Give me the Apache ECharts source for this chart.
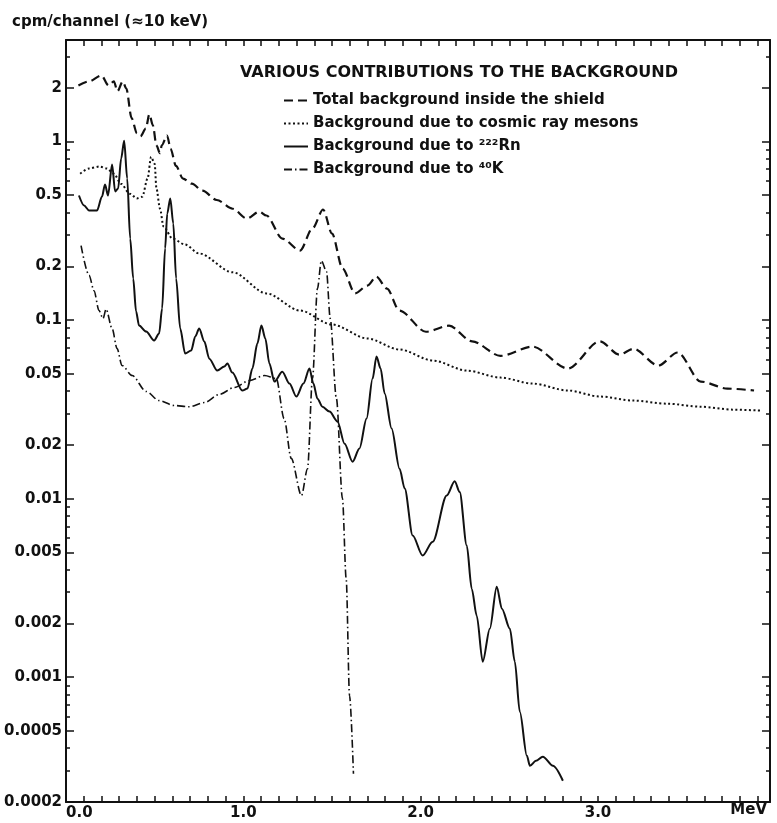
<!DOCTYPE html>
<html>
<head>
<meta charset="utf-8">
<script src="https://cdn.jsdelivr.net/npm/echarts@6/dist/echarts.min.js"></script>
<style>
  html, body { margin: 0; padding: 0; background: #fff; }
  #chart { width: 777px; height: 823px; }
</style>
</head>
<body>
<div id="chart"></div>
<script>

  /******************/
  //region    //data  (energy in MeV, counts in cpm per 10 keV channel)

  let totalE = [0.07, 0.13, 0.20, 0.24, 0.27, 0.29, 0.32, 0.34, 0.37, 0.40, 0.42, 0.45, 0.47, 0.49, 0.51, 0.53,
    0.54, 0.57, 0.59, 0.62, 0.66, 0.71, 0.77, 0.85, 0.94, 1.02, 1.09, 1.13, 1.22, 1.32, 1.39, 1.45, 1.50, 1.56,
    1.63, 1.70, 1.75, 1.81, 1.88, 2.03, 2.16, 2.29, 2.45, 2.63, 2.83, 3.01, 3.12, 3.20, 3.34, 3.45, 3.58, 3.73, 3.88];
  let totalV = [2.06, 2.17, 2.34, 2.06, 2.17, 1.91, 2.17, 1.98, 1.35, 1.11, 1.07, 1.18, 1.42, 1.23, 0.95, 0.86,
    0.95, 1.08, 0.91, 0.73, 0.62, 0.58, 0.53, 0.47, 0.42, 0.37, 0.405, 0.385, 0.286, 0.245, 0.326, 0.416, 0.305, 0.194,
    0.141, 0.156, 0.175, 0.150, 0.113, 0.086, 0.093, 0.076, 0.063, 0.071, 0.0535, 0.076, 0.064, 0.069, 0.0556, 0.0658,
    0.0452, 0.0413, 0.0403];

  let cosmicE = [0.08, 0.13, 0.19, 0.23, 0.27, 0.31, 0.36, 0.40, 0.43, 0.46, 0.48, 0.50, 0.51, 0.53, 0.55, 0.60,
    0.67, 0.75, 0.94, 1.13, 1.32, 1.50, 1.70, 1.88, 2.07, 2.26, 2.45, 2.63, 2.83, 3.01, 3.20, 3.39, 3.58, 3.76, 3.92];
  let cosmicV = [0.66, 0.706, 0.724, 0.706, 0.66, 0.58, 0.51, 0.48, 0.49, 0.62, 0.82, 0.75, 0.545, 0.42, 0.334, 0.286,
    0.265, 0.236, 0.185, 0.141, 0.113, 0.0944, 0.0788, 0.0684, 0.0593, 0.0521, 0.0476, 0.0441, 0.0403, 0.0373, 0.0354,
    0.034, 0.0327, 0.0315, 0.0311];

  let radonE = [0.073, 0.102, 0.13, 0.175, 0.203, 0.22, 0.237, 0.26, 0.277, 0.294, 0.311, 0.328, 0.345, 0.362, 0.379,
    0.395, 0.412, 0.452, 0.497, 0.525, 0.542, 0.559, 0.571, 0.588, 0.605, 0.621, 0.644, 0.672, 0.706, 0.729, 0.751,
    0.78, 0.808, 0.853, 0.893, 0.91, 0.938, 0.994, 1.023, 1.051, 1.079, 1.102, 1.124, 1.147, 1.175, 1.22, 1.26, 1.299,
    1.339, 1.373, 1.395, 1.418, 1.446, 1.486, 1.531, 1.571, 1.616, 1.655, 1.695, 1.729, 1.751, 1.774, 1.797, 1.836,
    1.881, 1.91, 1.955, 2.011, 2.068, 2.147, 2.192, 2.22, 2.26, 2.288, 2.316, 2.35, 2.39, 2.429, 2.458, 2.503, 2.531,
    2.559, 2.599, 2.616, 2.65, 2.689, 2.746, 2.802];
  let radonV = [0.498, 0.438, 0.411, 0.411, 0.492, 0.574, 0.498, 0.743, 0.525, 0.545, 0.803, 1.01, 0.621, 0.286, 0.171,
    0.112, 0.0931, 0.0862, 0.0768, 0.084, 0.116, 0.252, 0.395, 0.48, 0.347, 0.171, 0.0896, 0.0649, 0.0675, 0.0809, 0.0896,
    0.0758, 0.0608, 0.0521, 0.0549, 0.0571, 0.0508, 0.0403, 0.0413, 0.0535, 0.0738, 0.0931, 0.0788, 0.0571, 0.0452, 0.0514,
    0.0441, 0.0373, 0.0441, 0.0535, 0.0441, 0.0363, 0.0327, 0.0307, 0.027, 0.0203, 0.0161, 0.0191, 0.0281, 0.047, 0.0625,
    0.0535, 0.0388, 0.0247, 0.0147, 0.0114, 0.00621, 0.0048, 0.00574, 0.0104, 0.0125, 0.0109, 0.00546, 0.00313, 0.00221,
    0.00122, 0.00187, 0.00321, 0.00242, 0.00187, 0.00122, 0.00064, 0.000363, 0.000319, 0.00034, 0.000359, 0.000319,
    0.000263];

  let potassiumE = [0.085, 0.13, 0.158, 0.186, 0.209, 0.226, 0.26, 0.288, 0.316, 0.373, 0.452, 0.525, 0.61, 0.695,
    0.78, 0.864, 0.949, 1.034, 1.12, 1.186, 1.23, 1.27, 1.328, 1.362, 1.39, 1.418, 1.44, 1.469, 1.49, 1.525, 1.559,
    1.58, 1.599, 1.621];
  let potassiumV = [0.261, 0.178, 0.146, 0.113, 0.102, 0.115, 0.0896, 0.0692, 0.0556, 0.0489, 0.0398, 0.0354, 0.0332,
    0.0327, 0.0345, 0.0383, 0.0419, 0.0458, 0.0489, 0.047, 0.0281, 0.0168, 0.0104, 0.0147, 0.047, 0.150, 0.215, 0.187,
    0.102, 0.0363, 0.0100, 0.00356, 0.000787, 0.000288];

  let seriesNames = ['Total background inside the shield', 'Background due to cosmic ray mesons',
    'Background due to ²²²Rn', 'Background due to ⁴⁰K'];

  let yLabels = ['0.0002', '0.0005', '0.001', '0.002', '0.005', '0.01', '0.02', '0.05', '0.1', '0.2', '0.5', '1', '2'];
  let xLabels = [0, 1, 2, 3];

  //endregion

  /******************/
  //region    //helpers

  let font = '"DejaVu Sans", sans-serif';
  let ink = '#111';
  let yMin = Math.log10(0.0002);
  let yMax = Math.log10(3.7);

  // values are plotted as log10 on a linear axis
  function pairs(xs, vs) {
    return xs.map((x, i) => [x, Math.log10(vs[i])]);
  }

  let yMajor = yLabels.map(s => Math.log10(Number(s)));
  let yMinor = [];
  for (let p = -4; p <= 0; p++) {
    for (let m = 1; m <= 9; m++) {
      let v = m * Math.pow(10, p);
      let lv = Math.log10(v);
      if (lv >= yMin - 1e-9 && lv <= yMax && yLabels.indexOf(String(Number(v.toPrecision(6)))) < 0) {
        yMinor.push(lv);
      }
    }
  }

  function yLabelText(v) {
    for (let s of yLabels) {
      if (Math.abs(Math.log10(Number(s)) - v) < 1e-6) return s;
    }
    return '';
  }

  function yAxis(position, ticks, len, withLabels, withLine) {
    return {
      type: 'value', position: position, min: yMin, max: yMax,
      axisLine: {show: withLine, onZero: false, lineStyle: {color: ink, width: 2}},
      axisTick: {show: true, inside: true, length: len, customValues: ticks, lineStyle: {color: ink, width: 1.5}},
      axisLabel: withLabels ? {
        show: true, customValues: yMajor, formatter: yLabelText, margin: 4,
        color: ink, fontSize: 15, fontWeight: 'bold', fontFamily: font
      } : {show: false},
      splitLine: {show: false},
    };
  }

  function xAxis(position, withLabels) {
    let axis = {
      type: 'value', position: position, min: 0, max: 3.97, interval: 0.1,
      axisLine: {show: true, onZero: false, lineStyle: {color: ink, width: 2}},
      axisTick: {show: true, inside: true, length: 6, lineStyle: {color: ink, width: 1.5}},
      axisLabel: {show: false},
      splitLine: {show: false},
    };
    if (withLabels) {
      axis.axisLabel = {
        show: true, customValues: xLabels, formatter: v => v.toFixed(1), margin: 4, alignMinLabel: 'left',
        color: ink, fontSize: 15, fontWeight: 'bold', fontFamily: font
      };
      axis.name = 'MeV';
      axis.nameLocation = 'end';
      axis.nameGap = -3;
      axis.nameTextStyle = {
        align: 'right', verticalAlign: 'top', padding: [1, 0, 0, 0],
        color: ink, fontSize: 15, fontWeight: 'bold', fontFamily: font
      };
    }
    return axis;
  }

  function line(name, xs, vs, type, width) {
    return {
      name: name, type: 'line', data: pairs(xs, vs),
      symbol: 'none', smooth: 0.3, smoothMonotone: 'x',
      lineStyle: {color: ink, width: width, type: type},
      itemStyle: {color: ink},
    };
  }

  //endregion

  /******************/
  //region    //chart

  let chart = echarts.init(document.getElementById('chart'));
  chart.setOption({
    animation: false,
    backgroundColor: '#fff',
    grid: {left: 66, right: 7, top: 40, bottom: 21, outerBoundsMode: 'none'},
    title: [
      {
        text: 'cpm/channel (≈10 keV)', left: 12, top: 15, padding: 0,
        textStyle: {color: ink, fontSize: 15, fontWeight: 'bold', fontFamily: font}
      },
      {
        text: 'VARIOUS CONTRIBUTIONS TO THE BACKGROUND', left: 240, top: 65, padding: 0,
        textStyle: {color: ink, fontSize: 16, fontWeight: 'bold', fontFamily: font}
      },
    ],
    legend: {
      data: seriesNames, orient: 'vertical', left: 283, top: 93, padding: 0,
      itemWidth: 24, itemHeight: 14, itemGap: 8, selectedMode: false,
      itemStyle: {opacity: 0},
      textStyle: {color: ink, fontSize: 15, fontWeight: 'bold', fontFamily: font},
    },
    xAxis: [xAxis('bottom', true), xAxis('top', false)],
    yAxis: [
      yAxis('left', yMajor, 8, true, true),
      yAxis('left', yMinor, 4, false, false),
      yAxis('right', yMajor, 8, false, true),
      yAxis('right', yMinor, 4, false, false),
    ],
    series: [
      line(seriesNames[0], totalE, totalV, [9, 5], 2.2),
      line(seriesNames[1], cosmicE, cosmicV, [2, 2.5], 2),
      line(seriesNames[2], radonE, radonV, 'solid', 2),
      line(seriesNames[3], potassiumE, potassiumV, [8, 3, 1.5, 3], 1.6),
    ],
  });

  //endregion
</script>
</body>
</html>
